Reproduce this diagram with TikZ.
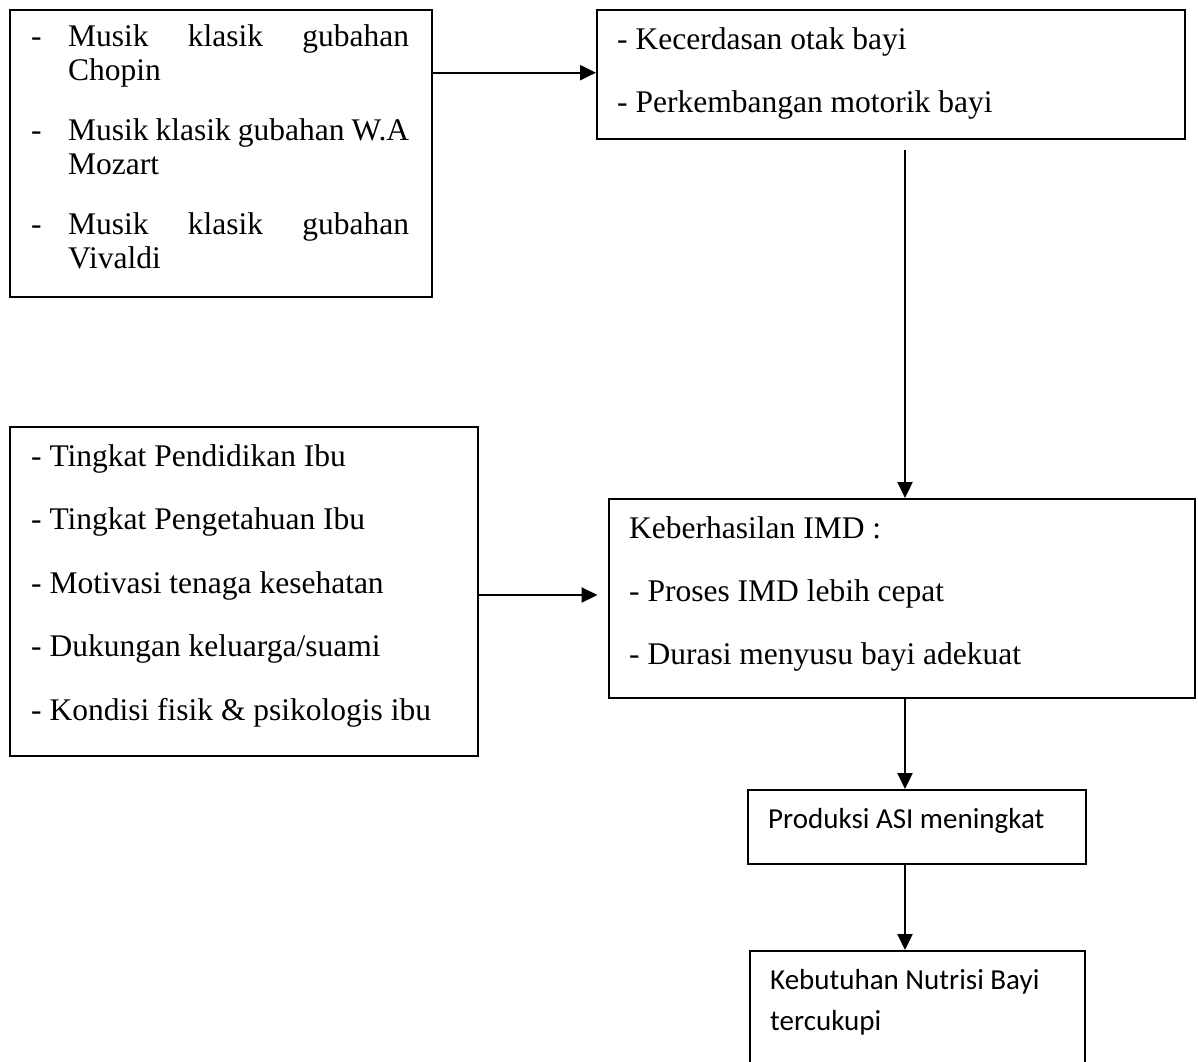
\documentclass[tikz,border=0pt]{standalone}
\usepackage{fontspec}
\setmainfont{Liberation Serif}
\newfontfamily\calfont{Carlito}
\usetikzlibrary{arrows.meta}
\begin{document}
\begin{tikzpicture}[x=1pt,y=-1pt,
  box/.style={draw, line width=2pt, inner sep=0pt, anchor=north west},
  txt/.style={anchor=base west, inner sep=0pt, font=\fontsize{31.5}{34}\selectfont},
  ctxt/.style={anchor=base west, inner sep=0pt, font=\calfont\fontsize{29}{34}\selectfont},
  arr/.style={line width=2.2pt, -{Triangle[length=16pt,width=15pt]}}]
\useasboundingbox (0,0) rectangle (1198,1061);
\clip (0,0) rectangle (1198,1061);
% boxes
\node[box, minimum width=421.5pt, minimum height=287pt] (b1) at (9,9) {};
\node[box, minimum width=587.5pt, minimum height=129pt] (b2) at (596,9) {};
\node[box, minimum width=467.5pt, minimum height=329pt] (b3) at (9,426) {};
\node[box, minimum width=586.5pt, minimum height=199pt] (b4) at (607.5,498) {};
\node[box, minimum width=338pt, minimum height=74pt] (b5) at (747,789) {};
\node[box, minimum width=335pt, minimum height=130pt] (b6) at (749,950) {};
% box 1 text
\node[txt] (d1) at (31,46) {-};
\node[txt] (t1a) at (68,46) {\makebox[341pt][s]{Musik klasik gubahan}};
\node[txt] (t1b) at (68,80) {Chopin};
\node[txt] (d2) at (31,140) {-};
\node[txt] (t1c) at (68,140) {\makebox[341pt][s]{Musik klasik gubahan W.A}};
\node[txt] (t1d) at (68,174) {Mozart};
\node[txt] (d3) at (31,234) {-};
\node[txt] (t1e) at (68,234) {\makebox[341pt][s]{Musik klasik gubahan}};
\node[txt] (t1f) at (68,268) {Vivaldi};
% box 2 text
\node[txt] (t2a) at (617,49) {- Kecerdasan otak bayi};
\node[txt] (t2b) at (617,112) {- Perkembangan motorik bayi};
% box 3 text
\node[txt] (t3a) at (31,466) {- Tingkat Pendidikan Ibu};
\node[txt] (t3b) at (31,529.5) {- Tingkat Pengetahuan Ibu};
\node[txt] (t3c) at (31,593) {- Motivasi tenaga kesehatan};
\node[txt] (t3d) at (31,656.5) {- Dukungan keluarga/suami};
\node[txt] (t3e) at (31,720) {- Kondisi fisik \& psikologis ibu};
% box 4 text
\node[txt] (t4a) at (629,538) {Keberhasilan IMD :};
\node[txt] (t4b) at (629,601) {- Proses IMD lebih cepat};
\node[txt] (t4c) at (629,664) {- Durasi menyusu bayi adekuat};
% box 5, 6 text
\node[ctxt] (t5) at (768,828) {Produksi ASI meningkat};
\node[ctxt] (t6a) at (770,989) {Kebutuhan Nutrisi Bayi};
\node[ctxt] (t6b) at (770,1030) {tercukupi};
% connectors
\coordinate (r1) at (0,72.7);
\coordinate (r3) at (0,595);
\coordinate (vx) at (905,0);
\draw[arr] (b1.east |- r1) -- (b2.west |- r1);
\draw[arr, shorten <=10pt] (b2.south -| vx) -- (b4.north -| vx);
\draw[arr, shorten >=10pt] (b3.east |- r3) -- (b4.west |- r3);
\draw[arr] (b4.south -| vx) -- (b5.north -| vx);
\draw[arr] (b5.south -| vx) -- (b6.north -| vx);
\end{tikzpicture}
\end{document}
